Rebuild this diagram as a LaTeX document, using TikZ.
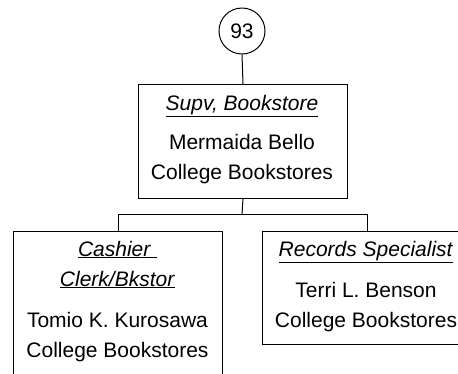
\documentclass[tikz,border=0pt]{standalone}
\usepackage{fontspec}
\setmainfont{Liberation Sans}
\begin{document}
\begin{tikzpicture}[x=1pt,y=-1pt,
  line width=1pt,
  box/.style={draw,rectangle,inner sep=0pt,anchor=north west},
  txt/.style={anchor=base,inner sep=0pt,font=\fontsize{21}{21}\selectfont},
  ttl/.style={txt},
  conn/.style={draw,line width=1pt}]
\useasboundingbox (0,0) rectangle (458,373);
\clip (0,0) rectangle (458,373);
\fill[white] (0,0) rectangle (458,373);
% circle
\node[draw,circle,minimum size=46pt,inner sep=0pt] (c93) at (242,31) {};
\node[txt] (c93t) at (242,38) {93};
% top box
\node[box,minimum width=209pt,minimum height=114pt] (top) at (138,84) {};
\node[ttl] (topt) at (242,110) {\underline{\textit{Supv, Bookstore}}};
\node[txt] (topn) at (242,149) {Mermaida Bello};
\node[txt] (topd) at (242,179) {College Bookstores};
% left box
\node[box,minimum width=209pt,minimum height=200pt] (lft) at (13,231) {};
\node[ttl] (lftt1) at (117.5,256) {\underline{\textit{Cashier }}};
\node[ttl] (lftt2) at (117.5,286) {\underline{\textit{Clerk/Bkstor}}};
\node[txt] (lftn) at (117.5,327) {Tomio K. Kurosawa};
\node[txt] (lftd) at (117.5,357) {College Bookstores};
% right box
\node[box,minimum width=209pt,minimum height=113pt] (rgt) at (262,231) {};
\node[ttl] (rgtt) at (366,256) {\underline{\textit{Records Specialist}}};
\node[txt] (rgtn) at (366,297) {Terri L. Benson};
\node[txt] (rgtd) at (366,327) {College Bookstores};
% connectors
\coordinate (jn) at (242,214);
\draw (c93.south) -- (top.north);
\draw (top.south) -- (jn);
\draw (jn) -| (lft.north);
\draw (jn) -| (rgt.north);
\end{tikzpicture}
\end{document}
